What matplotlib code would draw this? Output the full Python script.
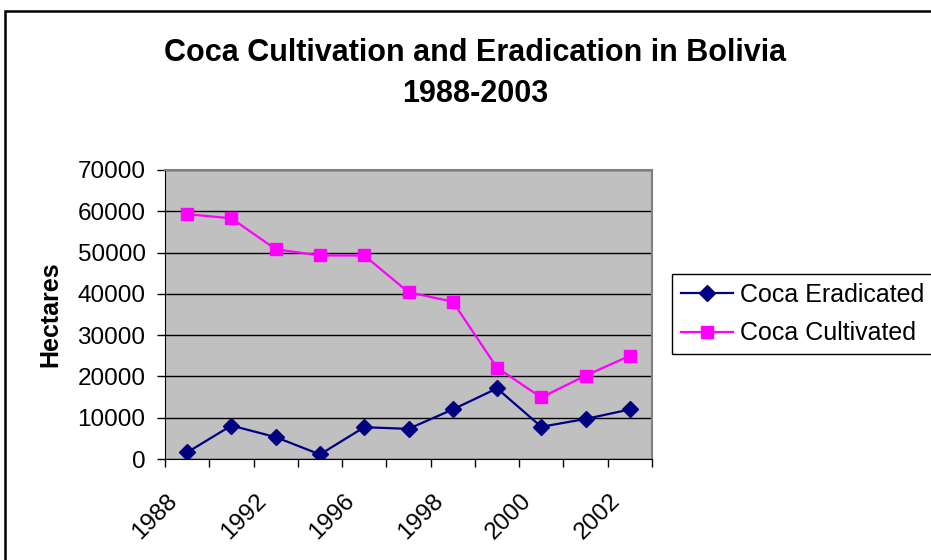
import matplotlib
matplotlib.use("Agg")
import matplotlib.pyplot as plt
import matplotlib.transforms as mtransforms
from matplotlib.patches import Rectangle


years = ["1988", "1990", "1992", "1994", "1996", "1997",
         "1998", "1999", "2000", "2001", "2002"]
eradicated = [1600, 8100, 5300, 1100, 7700, 7300,
              12000, 17100, 7800, 9700, 12000]
cultivated = [59300, 58300, 50800, 49300, 49300, 40400,
              38100, 22100, 14900, 20200, 25000]
shown_years = ["1988", "1992", "1996", "1998", "2000", "2002"]

plt.rcParams["font.family"] = ["Liberation Sans", "DejaVu Sans"]

fig = plt.figure(figsize=(9.31, 5.6), dpi=100)

# chart area border (runs off the right and bottom edge)
fig.patches.append(Rectangle((5 / 931, -0.1), 1.2, 1 - 11 / 560 + 0.1,
                             transform=fig.transFigure, fill=False,
                             edgecolor="black", linewidth=1.8))

ax = fig.add_axes([165 / 931, 1 - 459 / 560, (652 - 165) / 931, (459 - 170) / 560])
ax.set_facecolor("#C0C0C0")

x = list(range(len(years)))
ax.plot(x, eradicated, color="#000080", marker="D", markersize=8,
        linewidth=1.6, label="Coca Eradicated")
ax.plot(x, cultivated, color="#FF00FF", marker="s", markersize=9,
        linewidth=1.6, label="Coca Cultivated")

ax.set_xlim(-0.5, len(years) - 0.5)
ax.set_ylim(0, 70000)
ax.set_yticks(range(0, 70001, 10000))
ax.yaxis.grid(True, color="black", linewidth=1)
ax.set_axisbelow(True)

# ticks between categories, labels on every other category
ax.set_xticks([i - 0.5 for i in range(len(years) + 1)])
ax.set_xticklabels([])
label_pos = [years.index(y) for y in shown_years]
ax.set_xticks(label_pos, minor=True)
ax.set_xticklabels(shown_years, minor=True, rotation=45, ha="right",
                   rotation_mode="anchor")
ax.tick_params(axis="x", which="minor", length=0, pad=22, labelsize=17.5)
ax.tick_params(axis="x", which="major", length=6, width=1, direction="out")
ax.tick_params(axis="y", length=6, width=1, labelsize=17.5, pad=8)
offset = mtransforms.ScaledTranslation(-15 / 72, 0, fig.dpi_scale_trans)
for lbl in ax.get_xticklabels(minor=True):
    lbl.set_transform(lbl.get_transform() + offset)

for side in ["top", "right"]:
    ax.spines[side].set_color("#808080")
    ax.spines[side].set_linewidth(1.5)
for side in ["left", "bottom"]:
    ax.spines[side].set_color("black")

ax.set_ylabel("Hectares", fontsize=18, fontweight="bold", labelpad=11)

fig.text(475 / 931, 1 - 53 / 560, "Coca Cultivation and Eradication in Bolivia",
         ha="center", va="center", fontsize=22, fontweight="bold")
fig.text(475 / 931, 1 - 94 / 560, "1988-2003",
         ha="center", va="center", fontsize=22, fontweight="bold")

leg = ax.legend(loc="center left", bbox_to_anchor=(672 / 931, 1 - 314 / 560),
                bbox_transform=fig.transFigure, fontsize=18, frameon=True,
                fancybox=False, edgecolor="black", framealpha=1,
                handlelength=2.1, borderpad=0.34, labelspacing=0.6,
                handletextpad=0.28, borderaxespad=0)
leg.get_frame().set_linewidth(1)

fig.savefig("out.png", dpi=100)
